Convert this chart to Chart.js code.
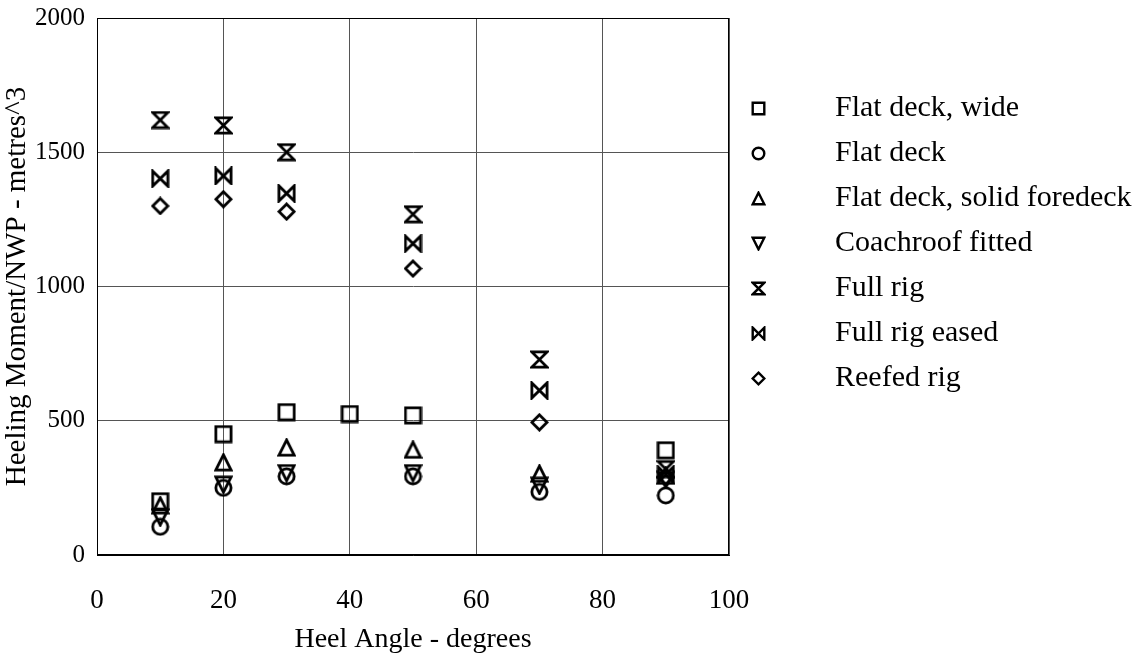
<!DOCTYPE html>
<html>
<head>
<meta charset="utf-8">
<script src="https://cdn.jsdelivr.net/npm/chart.js@4"></script>
<style>
  html, body { margin: 0; padding: 0; background: #fff; }
  #wrap { width: 1144px; height: 656px; }
</style>
</head>
<body>
<div id="wrap"><canvas id="heelChart" width="1144" height="656"></canvas></div>
<script>
// heel angles (degrees) and heeling moment / NWP readings per configuration
const labels = ['Flat deck, wide', 'Flat deck', 'Flat deck, solid foredeck', 'Coachroof fitted', 'Full rig', 'Full rig eased', 'Reefed rig'];
const shapes = ['square', 'circle', 'triangle', 'triangleDown', 'hourglass', 'bowtie', 'diamond'];

const wideAngles = [10, 20, 30, 40, 50, 90];
const wideValues = [200, 450, 532, 525, 520, 390];

const flatAngles = [10, 20, 30, 50, 70, 90];
const flatValues = [105, 250, 293, 293, 235, 222];

const foredeckAngles = [10, 20, 30, 50, 70, 90];
const foredeckValues = [185, 345, 400, 392, 303, 295];

const coachAngles = [10, 20, 30, 50, 70, 90];
const coachValues = [140, 262, 305, 305, 258, 280];

const fullAngles = [10, 20, 30, 50, 70, 90];
const fullValues = [1620, 1600, 1500, 1269, 728, 320];

const easedAngles = [10, 20, 30, 50, 70, 90];
const easedValues = [1402, 1412, 1347, 1160, 613, 300];

const reefedAngles = [10, 20, 30, 50, 70, 90];
const reefedValues = [1300, 1325, 1279, 1067, 494, 290];

const xTicks = [0, 20, 40, 60, 80, 100];
const yTicks = [0, 500, 1000, 1500, 2000];

const angleSets = [wideAngles, flatAngles, foredeckAngles, coachAngles, fullAngles, easedAngles, reefedAngles];
const valueSets = [wideValues, flatValues, foredeckValues, coachValues, fullValues, easedValues, reefedValues];

const FONT = "'Liberation Serif', 'Times New Roman', serif";

// draw a marker glyph onto a small canvas so chart.js can use it as a pointStyle
function makeMarker(kind, size, lw) {
    const c = document.createElement('canvas');
    c.width = size; c.height = size;
    const g = c.getContext('2d');
    g.strokeStyle = '#000';
    g.lineWidth = lw;
    g.lineJoin = 'miter';
    const p = lw / 2 + 0.5;
    const l = p, t = p, r = size - p, b = size - p, m = size / 2;
    g.beginPath();
    if (kind === 'square') {
        g.rect(l, t, r - l, b - t);
    } else if (kind === 'circle') {
        g.arc(m, m, m - p, 0, Math.PI * 2);
    } else if (kind === 'triangle') {
        g.moveTo(m, t); g.lineTo(r, b); g.lineTo(l, b); g.closePath();
    } else if (kind === 'triangleDown') {
        g.moveTo(l, t); g.lineTo(r, t); g.lineTo(m, b); g.closePath();
    } else if (kind === 'hourglass') {
        g.moveTo(l, t); g.lineTo(r, t); g.lineTo(l, b); g.lineTo(r, b); g.closePath();
    } else if (kind === 'bowtie') {
        g.moveTo(l, t); g.lineTo(r, b); g.lineTo(r, t); g.lineTo(l, b); g.closePath();
    } else if (kind === 'diamond') {
        g.moveTo(m, t); g.lineTo(r, m); g.lineTo(m, b); g.lineTo(l, m); g.closePath();
    }
    g.stroke();
    return c;
}

const datasets = labels.map((label, i) => ({
    label: label,
    data: angleSets[i].map((a, j) => ({ x: a, y: valueSets[i][j] })),
    pointStyle: makeMarker(shapes[i], 19, 2.8),
    legendStyle: makeMarker(shapes[i], 15, 2.4),
    pointRadius: 9,
    borderColor: '#000',
    backgroundColor: '#000',
    showLine: false
}));

// legend drawn to the right of the plot, one row per configuration
const sideLegend = {
    id: 'sideLegend',
    afterDraw(chart) {
        const ctx = chart.ctx;
        ctx.save();
        ctx.fillStyle = '#000';
        ctx.font = '30px ' + FONT;
        ctx.textBaseline = 'middle';
        chart.data.datasets.forEach((ds, i) => {
            const y = 108 + i * 45;
            const img = ds.legendStyle;
            ctx.drawImage(img, Math.round(758 - img.width / 2), Math.round(y - img.height / 2));
            ctx.fillText(ds.label, 835, y);
        });
        ctx.restore();
    }
};

const ctx = document.getElementById('heelChart').getContext('2d');
new Chart(ctx, {
    type: 'scatter',
    data: { datasets: datasets },
    options: {
        responsive: false,
        animation: false,
        layout: { padding: { top: 18, right: 415, bottom: 0, left: 0 } },
        plugins: {
            legend: { display: false },
            tooltip: { enabled: false }
        },
        scales: {
            x: {
                type: 'linear',
                min: 0, max: 100,
                afterBuildTicks: (scale) => { scale.ticks = xTicks.map(v => ({ value: v })); },
                afterFit: (scale) => { scale.height = 101; scale.paddingLeft = 0; scale.paddingRight = 0; },
                grid: { color: '#555', lineWidth: 1, drawTicks: false },
                border: { color: '#000', width: 1 },
                ticks: { color: '#000', font: { family: FONT, size: 27 }, padding: 30, callback: v => String(v) },
                title: { display: true, text: 'Heel Angle - degrees', color: '#000', font: { family: FONT, size: 28 }, padding: { top: 0, bottom: 0 } }
            },
            y: {
                type: 'linear',
                min: 0, max: 2000,
                afterBuildTicks: (scale) => { scale.ticks = yTicks.map(v => ({ value: v })); },
                afterFit: (scale) => { scale.width = 97; scale.paddingTop = 0; scale.paddingBottom = 0; },
                grid: { color: '#555', lineWidth: 1, drawTicks: false },
                border: { color: '#000', width: 1 },
                ticks: { color: '#000', font: { family: FONT, size: 25 }, padding: 12, callback: v => String(v) },
                title: { display: true, text: 'Heeling Moment/NWP - metres^3', color: '#000', font: { family: FONT, size: 29 }, padding: 0 }
            }
        }
    },
    plugins: [sideLegend, {
        // close the frame on the top and right of the plot area
        id: 'frame',
        afterDraw(chart) {
            const a = chart.chartArea, c = chart.ctx;
            c.save();
            c.strokeStyle = '#000';
            c.lineWidth = 1;
            c.strokeRect(a.left + 0.5, a.top + 0.5, a.right - a.left - 1, a.bottom - a.top - 1);
            c.restore();
        }
    }]
});
</script>
</body>
</html>
